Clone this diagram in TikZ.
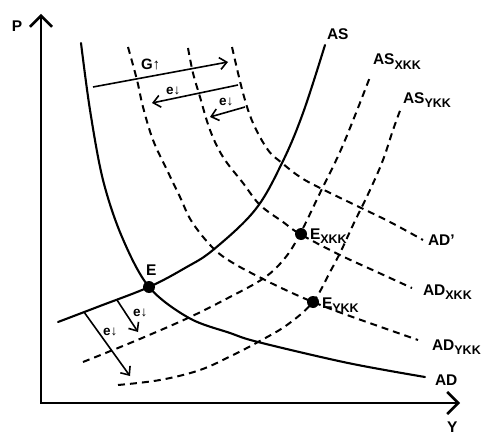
\documentclass[tikz,border=0pt]{standalone}
\usepackage{fontspec}
\setmainfont{Liberation Sans}
\usetikzlibrary{arrows.meta}
\tikzset{every node/.style={font=\fontsize{15.5}{18}\selectfont\bfseries},
  curve/.style={line width=2.1pt,line cap=round},
  shifted/.style={line width=2pt,dash pattern=on 7pt off 5pt}}
\newcommand{\fSb}{\fontsize{12.5}{14}\selectfont\bfseries}
\newcommand{\fG}{\fontsize{15}{17}\selectfont\bfseries}
\newcommand{\fEd}{\fontsize{13.5}{15}\selectfont\bfseries}
\newcommand{\lo}[1]{\raisebox{-4.5pt}{\fSb #1}}

\begin{document}
\begin{tikzpicture}[x=1pt,y=-1pt,
    txt/.style={inner sep=0pt,outer sep=0pt,anchor=base west},
    axis/.style={line width=2.5pt,
      {Straight Barb[length=11pt,width=22pt]}-{Straight Barb[length=11pt,width=22pt]}},
    move/.style={line width=1.6pt,-{Straight Barb[length=7pt,width=12pt]}},
    dot/.style={circle,fill=black,inner sep=0pt,minimum size=12pt}]
  \path[use as bounding box] (0,0) rectangle (482,436);

  % Axes: price up, output to the right
  \coordinate (O) at (41,403);
  \coordinate (Ptip) at (41,14);
  \coordinate (Ytip) at (460,403);
  \draw[axis] (Ptip) |- (Ytip);
  \node[txt] (lP) at (12,32) {P};
  \node[txt] (lY) at (447,432) {Y};

  % Starting curves, crossing at E
  \draw[curve] plot[smooth,tension=0.55] coordinates {(81,43) (90,110) (103,180)
    (122,237) (149,287) (189,318) (230,333) (258,342) (348,363) (425,377)};
  \draw[curve] plot[smooth,tension=0.6] coordinates {(58,322) (100,306) (149,287)
    (185,268) (213,250) (255,210) (282,163) (303,113) (325,45)};
  \node[dot] (E) at (149,287) {};
  \node[txt] (lE) at (146,275) {E};
  \node[txt] (lAS) at (327,40) {AS};
  \node[txt] (lAD) at (435,385) {AD};

  % Shifted demand curves
  \draw[shifted] plot[smooth,tension=0.6] coordinates {(232,47) (243,93) (253,123)
    (268,150) (282,163) (300,177) (320,188) (355,205) (390,222) (423,240)};
  \draw[shifted] plot[smooth,tension=0.6] coordinates {(188,48) (193,73) (200,97)
    (210,130) (223,157) (243,183) (260,205) (283,222) (300,234) (340,255)
    (377,272) (412,288)};
  \draw[shifted] plot[smooth,tension=0.6] coordinates {(128,47) (137,80) (143,107)
    (153,140) (167,170) (180,197) (192,222) (213,248) (233,263) (265,280)
    (290,292) (313,302) (347,315) (418,340)};
  \node[txt] (lADp) at (428,245) {AD'};
  \node[txt] (lADx) at (423,295) {AD\lo{XKK}};
  \node[txt] (lADy) at (432,350) {AD\lo{YKK}};

  % Shifted supply curves
  \draw[shifted] plot[smooth,tension=0.6] coordinates {(83,362) (135,341) (188,318)
    (228,298) (264,278) (285,258) (300,234) (320,193) (343,145) (370,77)};
  \draw[shifted] plot[smooth,tension=0.6] coordinates {(118,385) (160,380) (200,370)
    (233,355) (258,342) (287,325) (313,302) (330,272) (341,251) (353,225)
    (370,190) (383,160) (393,130) (401,108)};
  \node[txt] (lASx) at (373,65) {AS\lo{XKK}};
  \node[txt] (lASy) at (403,103) {AS\lo{YKK}};

  % New equilibria
  \node[dot] (Ex) at (301,234) {};
  \node[dot] (Ey) at (313,302) {};
  \node[txt] (lEx) at (310,239) {E\lo{XKK}};
  \node[txt] (lEy) at (322,308) {E\lo{YKK}};

  % Shifts: fiscal push and exchange-rate moves
  \coordinate (g0) at (93,87);   \coordinate (g1) at (228,62);
  \coordinate (a0) at (238,85);  \coordinate (a1) at (152,103);
  \coordinate (b0) at (245,107); \coordinate (b1) at (210,117);
  \coordinate (c0) at (117,300); \coordinate (c1) at (138,332);
  \coordinate (d0) at (84,312);  \coordinate (d1) at (130,376);
  \draw[move] (g0) -- (g1);
  \draw[move] (a0) -- (a1);
  \draw[move] (b0) -- (b1);
  \draw[move] (c0) -- (c1);
  \draw[move] (d0) -- (d1);
  \node[txt,font=\fG] (lG) at (141,70) {G↑};
  \node[txt,font=\fEd] (la) at (166,95) {e↓};
  \node[txt,font=\fEd] (lb) at (219,106) {e↓};
  \node[txt,font=\fEd] (lc) at (133,316) {e↓};
  \node[txt,font=\fEd] (ld) at (103,335) {e↓};
\end{tikzpicture}
\end{document}
